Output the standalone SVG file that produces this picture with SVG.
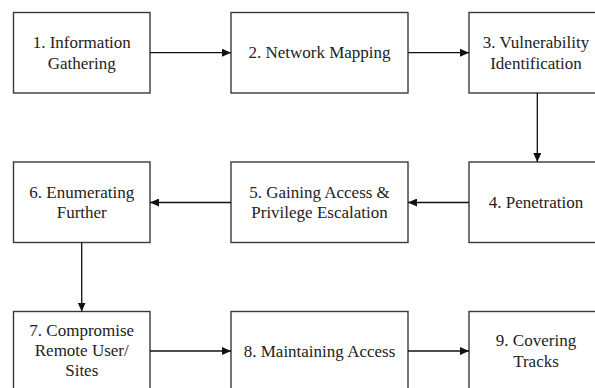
<svg xmlns="http://www.w3.org/2000/svg" width="595" height="388" viewBox="0 0 595 388">
<defs>
<style>
.box{fill:#fff;stroke:#3a3a3a;stroke-width:1.4}
.lbl{font-size:17px;fill:#222;text-anchor:middle}
.con{stroke:#111;stroke-width:1.3;fill:none;marker-end:url(#ah)}
</style>
<marker id="ah" markerUnits="userSpaceOnUse" markerWidth="9" markerHeight="8" refX="9" refY="4" orient="auto">
<path d="M0,0 L9,4 L0,8 z" fill="#111"/>
</marker>
</defs>
<rect width="595" height="388" fill="#fff"/>
<g font-family="Liberation Serif, Times New Roman, serif">
<g id="n1"><rect class="box" x="13.5" y="12.5" width="136.5" height="80.5"/><text class="lbl" x="81.75" y="48">1. Information</text><text class="lbl" x="81.75" y="68.5">Gathering</text></g>
<g id="n2"><rect class="box" x="231" y="12.5" width="177" height="80.5"/><text class="lbl" x="319.5" y="58.3">2. Network Mapping</text></g>
<g id="n3"><rect class="box" x="469" y="12.5" width="134" height="80.5"/><text class="lbl" x="536" y="48">3. Vulnerability</text><text class="lbl" x="536" y="68.5">Identification</text></g>
<g id="n4"><rect class="box" x="469" y="162" width="134" height="80.5"/><text class="lbl" x="536" y="208">4. Penetration</text></g>
<g id="n5"><rect class="box" x="231" y="162" width="177" height="80.5"/><text class="lbl" x="319.5" y="197.5">5. Gaining Access &amp;</text><text class="lbl" x="319.5" y="218">Privilege Escalation</text></g>
<g id="n6"><rect class="box" x="13.5" y="162" width="136.5" height="80.5"/><text class="lbl" x="81.75" y="197.5">6. Enumerating</text><text class="lbl" x="81.75" y="218">Further</text></g>
<g id="n7"><rect class="box" x="13.5" y="311.5" width="136.5" height="80.5"/><text class="lbl" x="81.75" y="335.5">7. Compromise</text><text class="lbl" x="81.75" y="355.5">Remote User/</text><text class="lbl" x="81.75" y="375.5">Sites</text></g>
<g id="n8"><rect class="box" x="231" y="311.5" width="177" height="80.5"/><text class="lbl" x="319.5" y="357">8. Maintaining Access</text></g>
<g id="n9"><rect class="box" x="469" y="311.5" width="134" height="80.5"/><text class="lbl" x="536" y="346">9. Covering</text><text class="lbl" x="536" y="366.5">Tracks</text></g>
</g>
<g id="connectors">
<line class="con" x1="150" y1="52.7" x2="231" y2="52.7"/>
<line class="con" x1="408" y1="52.7" x2="469" y2="52.7"/>
<line class="con" x1="537.3" y1="93" x2="537.3" y2="162"/>
<line class="con" x1="469" y1="202.5" x2="408" y2="202.5"/>
<line class="con" x1="231" y1="202.5" x2="150" y2="202.5"/>
<line class="con" x1="81.7" y1="242.5" x2="81.7" y2="311.5"/>
<line class="con" x1="150" y1="351" x2="231" y2="351"/>
<line class="con" x1="408" y1="351" x2="469" y2="351"/>
</g>
</svg>
